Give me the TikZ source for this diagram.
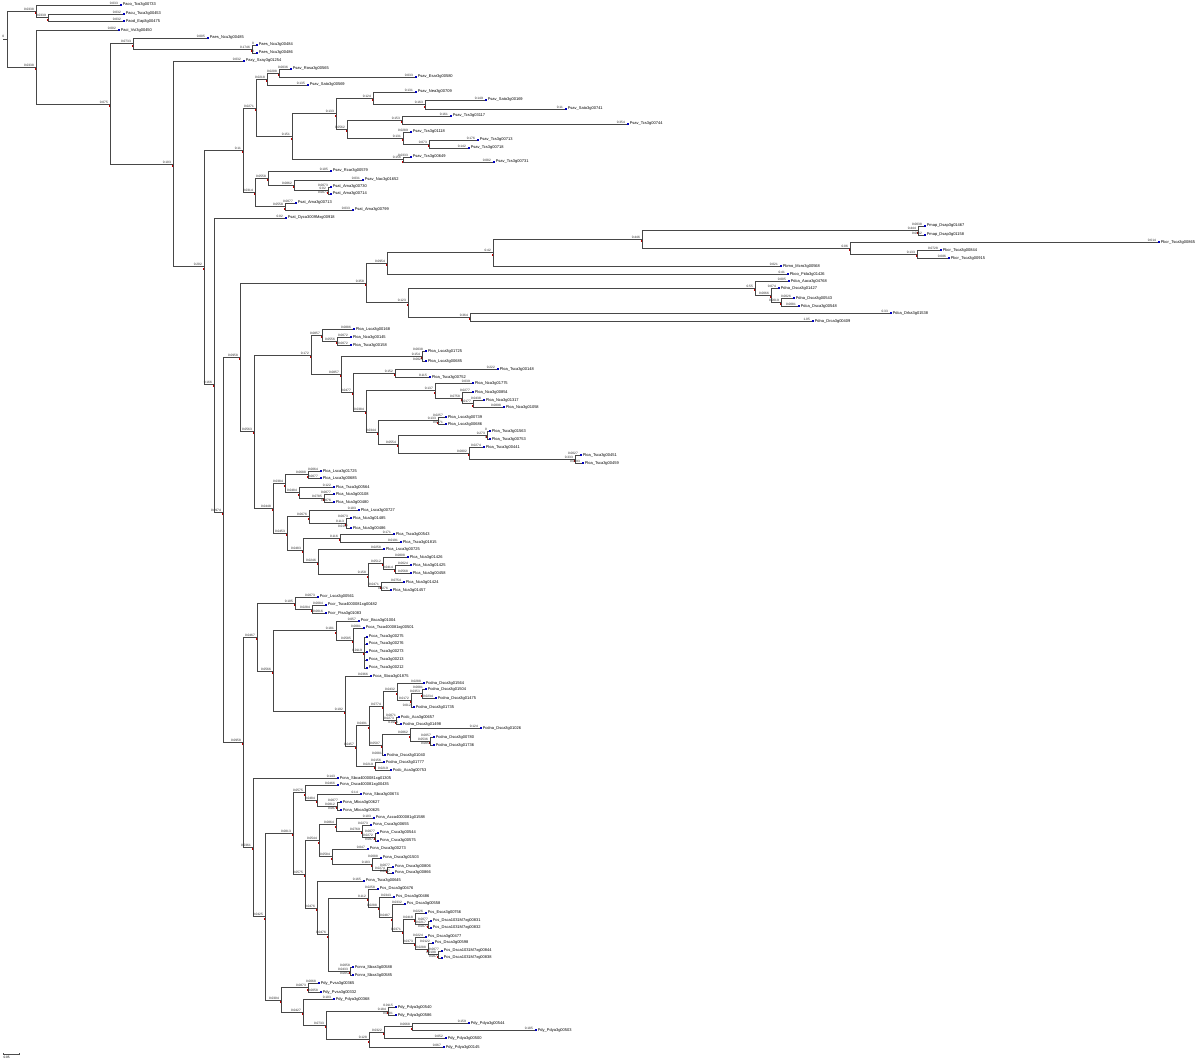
\documentclass[tikz,border=0pt]{standalone}
\usepackage{fontspec}
\setmainfont{Liberation Sans}
\begin{document}
\begin{tikzpicture}[x=1pt,y=-1pt,
  br/.style={draw=black!72,line width=0.9pt},
  bl/.style={anchor=south east,font=\fontsize{3.2}{3.2}\selectfont,inner sep=0.2pt,text=black!85,xshift=-1.8pt,yshift=0.4pt},
  lt/.style={anchor=west,font=\fontsize{4}{4}\selectfont,inner sep=0.3pt,xshift=2.3pt},
  nodetick/.style={fill=red!75!black},
  leafmark/.style={fill=blue!75!black}]
\newcommand\TNode[5]{%
  \coordinate (#1) at (#3,#4);
  \draw[br] (#2) |- (#1);
  \node[bl] at (#1) {#5};
  \fill[nodetick] ([xshift=-1.5pt,yshift=-1.2pt]#1) rectangle ++(0.45,2);}
\newcommand\TLeaf[6]{%
  \coordinate (#1) at (#3,#4);
  \draw[br] (#2) |- (#1);
  \node[bl] at (#1) {#5};
  \fill[leafmark] ([xshift=0.3pt,yshift=-0.7pt]#1) rectangle ++(1.2,-1.4);
  \node[lt] (#1t) at (#1) {#6};}
\useasboundingbox (0,0) rectangle (1200,1064);
\fill[white] (0,0) rectangle (1200,1064);
% root
\coordinate (r) at (7,39);
\coordinate (r0) at (3,39);
\draw[br] (r0) -- (r);
\node[bl,anchor=south] at (5,38) {0};
\TNode{A}{r}{36}{11}{0.0338}
\TLeaf{l1}{A}{120}{5}{0.033}{Paco\_Tco3g00733}
\TNode{N48}{A}{48}{17.5}{0.0339}
\TLeaf{l2}{N48}{123}{14}{0.032}{Pacu\_Tsca3g00453}
\TLeaf{l3}{N48}{123}{21}{0.032}{Paod\_Eap3g00475}
\TNode{B}{r}{36}{67}{0.0338}
\TLeaf{l4}{B}{118}{30}{0.002}{Paci\_Vvi3g00450}
\TNode{C}{B}{110}{104}{0.075}
\TNode{N133}{C}{133}{43.5}{0.0733}
\TLeaf{l5}{N133}{207}{38}{0.005}{Paes\_Ncu3g00485}
\TNode{N252}{N133}{252}{49}{0.1746}
\TLeaf{l6}{N252}{256}{45}{0}{Paes\_Ncu3g00484}
\TLeaf{l7}{N252}{256}{53}{0}{Paes\_Ncu3g00486}
\TNode{D}{C}{173}{164}{0.103}
\TLeaf{l8}{D}{243}{61}{0.032}{Paxy\_Sxay3g01254}
\TNode{E}{D}{204}{266.5}{0.202}
\TNode{N243}{E}{243}{150}{0.11}
\TNode{N256}{N243}{256}{108}{0.0271}
\TNode{N267}{N256}{267}{79}{0.0218}
\TNode{N279}{N267}{279}{73}{0.0208}
\TLeaf{l10}{N279}{290}{69}{0.0036}{Psav\_Rosa3g00565}
\TLeaf{l11}{N279}{415}{77}{0.033}{Psav\_Esar3g00580}
\TLeaf{l12}{N267}{307}{85}{0.135}{Psav\_Sato3g00569}
\TNode{N292}{N256}{292}{136.5}{0.151}
\TNode{N336}{N292}{336}{113.5}{0.133}
\TNode{N373}{N336}{373}{98}{0.124}
\TLeaf{l13}{N373}{415}{92}{0.131}{Psav\_Nea3g00709}
\TNode{N425}{N373}{425}{104.5}{0.163}
\TLeaf{l14}{N425}{485}{100}{0.149}{Psav\_Sato3g00169}
\TLeaf{l15}{N425}{565}{109}{0.11}{Psav\_Sato3g00741}
\TNode{N347}{N336}{347}{129}{0.0562}
\TNode{N402}{N347}{402}{120}{0.153}
\TLeaf{l16}{N402}{450}{116}{0.161}{Psav\_Tcs3g03117}
\TLeaf{l17}{N402}{627}{124}{0.354}{Psav\_Tcs3g00744}
\TNode{N403}{N347}{403}{138}{0.131}
\TLeaf{l18}{N403}{410}{132}{0.0289}{Psav\_Tcs3g01118}
\TNode{N429}{N403}{429}{144}{0.073}
\TLeaf{l19}{N429}{477}{140}{0.176}{Psav\_Tcs3g00713}
\TLeaf{l20}{N429}{468}{148}{0.142}{Psav\_Tcs3g00718}
\TNode{N403b}{N292}{403}{159.5}{0.156}
\TLeaf{l21}{N403b}{410}{157}{0.0333}{Psav\_Tcs3g00649}
\TLeaf{l22}{N403b}{493}{162}{0.082}{Psav\_Tcs3g00731}
\TNode{N255}{N243}{255}{192}{0.0314}
\TNode{N268}{N255}{268}{178}{0.0558}
\TLeaf{l23}{N268}{330}{171}{0.105}{Psav\_Rcar3g00579}
\TNode{N294}{N268}{294}{185}{0.0862}
\TLeaf{l24}{N294}{362}{180}{0.031}{Psav\_Nac3g01652}
\TNode{N328}{N294}{328}{190.5}{0.02}
\TLeaf{l25}{N328}{330}{187}{0.0073}{Psat\_Ama3g00730}
\TLeaf{l26}{N328}{330}{194}{0.0077}{Psat\_Ama3g00714}
\TNode{N285}{N255}{285}{206.5}{0.0558}
\TLeaf{l27}{N285}{295}{203}{0.0077}{Psat\_Ama3g00713}
\TLeaf{l28}{N285}{352}{210}{0.033}{Psat\_Ama3g00799}
\TNode{F}{E}{214}{384}{0.166}
\TLeaf{l9}{F}{285}{218}{0.02}{Psat\_Dyca3009Mxg00918}
\TNode{J}{F}{223}{512}{0.0974}
\TNode{G}{J}{240}{357}{0.0958}
\TNode{N366}{G}{366}{283}{0.358}
\TNode{N387}{N366}{387}{263}{0.0954}
\TNode{N493}{N387}{493}{252.5}{0.42}
\TNode{N642}{N493}{642}{239}{0.446}
\TNode{N918}{N642}{918}{230.5}{0.444}
\TLeaf{l29}{N918}{924}{226}{0.0038}{Pmap\_Dsap3g01467}
\TLeaf{l30}{N918}{924}{235}{0.0062}{Pmap\_Dsap3g01158}
\TNode{N850}{N642}{850}{248}{0.06}
\TLeaf{l31}{N850}{1158}{242}{0.614}{Pbcr\_Tsca3g00865}
\TNode{N917}{N850}{917}{254}{0.133}
\TLeaf{l32}{N917}{940}{250}{0.0728}{Pbcr\_Tsca3g00844}
\TLeaf{l33}{N917}{948}{258}{0.086}{Pbcr\_Tsca3g00915}
\TLeaf{l34}{N493}{780}{266}{0.021}{Pbmo\_Mcro3g00568}
\TLeaf{l35}{N387}{787}{274}{0.41}{Pbco\_Pida3g01426}
\TNode{N408}{N366}{408}{302.5}{0.123}
\TNode{N755}{N408}{755}{288}{0.55}
\TLeaf{l36}{N755}{788}{281}{0.005}{Pdca\_Aaca3g04768}
\TNode{N771}{N755}{771}{295}{0.0066}
\TLeaf{l37}{N771}{778}{288}{0.074}{Pdna\_Dsca3g01427}
\TNode{N781}{N771}{781}{302}{0.0019}
\TLeaf{l38}{N781}{793}{298}{0.0026}{Pdna\_Dsca3g00543}
\TLeaf{l39}{N781}{798}{306}{0.0081}{Pdca\_Dsca3g00548}
\TNode{N470}{N408}{470}{317}{0.364}
\TLeaf{l40}{N470}{890}{313}{0.33}{Pdca\_Drka3g01538}
\TLeaf{l41}{N470}{812}{321}{1.05}{Pdna\_Drca3g00409}
\TNode{H}{G}{254}{431}{0.0563}
\TNode{N311}{H}{311}{355}{0.172}
\TNode{N322}{N311}{322}{335}{0.0857}
\TLeaf{l42}{N322}{353}{329}{0.0886}{Ploa\_Lsca3g00168}
\TNode{N337}{N322}{337}{341}{0.0556}
\TLeaf{l43}{N337}{350}{337}{0.0072}{Ploa\_Nca3g00145}
\TLeaf{l44}{N337}{350}{345}{0.0072}{Ploa\_Tsca3g00158}
\TNode{N341}{N311}{341}{374}{0.0857}
\TNode{N420}{N341}{422}{356}{0.154}
\TLeaf{l45}{N420}{425}{351}{0.0038}{Ploa\_Lsca3g01725}
\TLeaf{l46}{N420}{425}{361}{0.0025}{Ploa\_Lsca3g00685}
\TNode{N353}{N341}{353}{392}{0.0477}
\TNode{N395}{N353}{395}{373}{0.152}
\TLeaf{l47}{N395}{497}{369}{0.222}{Ploa\_Tsca3g00148}
\TLeaf{l48}{N395}{429}{377}{0.115}{Ploa\_Tsca3g00752}
\TNode{N366b}{N353}{366}{411}{0.0384}
\TNode{N435}{N366b}{435}{390.5}{0.137}
\TLeaf{l49}{N435}{472}{383}{0.039}{Ploa\_Nca3g01775}
\TNode{N462}{N435}{462}{398}{0.0758}
\TLeaf{l50}{N462}{472}{392}{0.0277}{Ploa\_Nca3g00854}
\TNode{N473}{N462}{473}{403.5}{0.0177}
\TLeaf{l51}{N473}{483}{400}{0.0438}{Ploa\_Nca3g01317}
\TLeaf{l52}{N473}{503}{407}{0.0898}{Ploa\_Nca3g01058}
\TNode{N378}{N366b}{378}{432}{0.0344}
\TNode{N438}{N378}{438}{420.5}{0.133}
\TLeaf{l53}{N438}{445}{417}{0.0257}{Ploa\_Lsca3g00739}
\TLeaf{l54}{N438}{445}{424}{0.0271}{Ploa\_Lsca3g00686}
\TNode{N398}{N378}{398}{444}{0.0554}
\TNode{N487}{N398}{487}{435}{0.273}
\TLeaf{l55}{N487}{489}{431}{0}{Ploa\_Tsca3g01563}
\TLeaf{l56}{N487}{489}{439}{0}{Ploa\_Tsca3g00753}
\TNode{N469}{N398}{469}{453}{0.0802}
\TLeaf{l57}{N469}{483}{447}{0.0274}{Ploa\_Tsca3g00441}
\TNode{N575}{N469}{575}{459}{0.333}
\TLeaf{l58}{N575}{580}{455}{0.0027}{Ploa\_Tsca3g00451}
\TLeaf{l59}{N575}{582}{463}{0.0093}{Ploa\_Tsca3g00459}
\TNode{I}{H}{273}{508}{0.0448}
\TNode{N285i}{I}{285}{483.5}{0.0384}
\TNode{N308}{N285i}{308}{474.5}{0.0688}
\TLeaf{l60}{N308}{320}{471}{0.0064}{Plca\_Lsca3g01725}
\TLeaf{l61}{N308}{320}{478}{0.0077}{Plca\_Lsca3g00685}
\TNode{N299}{N285i}{299}{492.5}{0.0484}
\TLeaf{l62}{N299}{333}{487}{0.122}{Plca\_Tsca3g00564}
\TNode{N324}{N299}{324}{498}{0.0785}
\TLeaf{l63}{N324}{333}{494}{0.0077}{Plca\_Nca3g00108}
\TLeaf{l64}{N324}{333}{502}{0.0076}{Plca\_Nca3g00480}
\TNode{N287}{I}{287}{533}{0.0453}
\TNode{N309}{N287}{309}{516.5}{0.0676}
\TLeaf{l65}{N309}{358}{510}{0.103}{Plca\_Lsca3g00727}
\TNode{N346}{N309}{346}{523}{0.113}
\TLeaf{l66}{N346}{350}{518}{0.0073}{Plca\_Nca3g01485}
\TLeaf{l67}{N346}{350}{528}{0.0157}{Plca\_Nca3g00486}
\TNode{N303}{N287}{303}{550}{0.0483}
\TNode{N340}{N303}{340}{538}{0.116}
\TLeaf{l68}{N340}{393}{534}{0.171}{Plca\_Tsca3g00543}
\TLeaf{l69}{N340}{400}{542}{0.0191}{Plca\_Tsca3g01815}
\TNode{N318}{N303}{318}{562}{0.0246}
\TLeaf{l70}{N318}{383}{549}{0.0258}{Plca\_Lsca3g00725}
\TNode{N368}{N318}{368}{574.5}{0.158}
\TNode{N383}{N368}{383}{563}{0.0512}
\TLeaf{l71}{N383}{407}{557}{0.0808}{Plca\_Nca3g01426}
\TNode{N395b}{N383}{395}{569}{0.0414}
\TLeaf{l72}{N395b}{410}{565}{0.0624}{Plca\_Nca3g01425}
\TLeaf{l73}{N395b}{410}{573}{0.0568}{Plca\_Nca3g00458}
\TNode{N381}{N368}{381}{586}{0.0471}
\TLeaf{l74}{N381}{403}{582}{0.0754}{Plca\_Nca3g01424}
\TLeaf{l75}{N381}{390}{590}{0.0276}{Plca\_Nca3g01457}
\TNode{K}{J}{243}{742}{0.0958}
\TNode{N257}{K}{257}{637}{0.0467}
\TNode{N295}{N257}{295}{603}{0.105}
\TLeaf{l76}{N295}{317}{597}{0.0073}{Pccr\_Lsca3g00561}
\TNode{N312}{N295}{312}{609}{0.0284}
\TLeaf{l77}{N312}{325}{605}{0.0084}{Pccr\_Tsca4000081xg00482}
\TLeaf{l78}{N312}{325}{613}{0.0016}{Pccr\_Pisa3g01083}
\TNode{N273}{N257}{273}{671}{0.0566}
\TNode{N336k}{N273}{336}{630.5}{0.181}
\TLeaf{l79}{N336k}{358}{621}{0.057}{Pccr\_Bsca3g01004}
\TNode{N353k}{N336k}{353}{640}{0.0585}
\TLeaf{l80}{N353k}{363}{628}{0.0081}{Pcca\_Tsca400081xg00501}
\TNode{N364}{N353k}{364}{652}{0.0119}
\TLeaf{l81}{N364}{366}{637}{}{Pcca\_Tsca3g00275}
\TLeaf{l82}{N364}{366}{644}{}{Pcca\_Tsca3g00276}
\TLeaf{l83}{N364}{366}{652}{}{Pcca\_Tsca3g00273}
\TLeaf{l84}{N364}{366}{660}{}{Pcca\_Tsca3g00213}
\TLeaf{l85}{N364}{366}{668}{}{Pcca\_Tsca3g00212}
\TNode{N345}{N273}{345}{711}{0.192}
\TLeaf{l86}{N345}{370}{676}{0.0366}{Pcca\_Sbca3g01875}
\TNode{N356}{N345}{356}{746}{0.0457}
\TNode{N369}{N356}{369}{725.5}{0.0491}
\TNode{N383k}{N369}{383}{706}{0.0774}
\TNode{N397}{N383k}{397}{691.5}{0.0432}
\TLeaf{l87}{N397}{423}{683}{0.0288}{Pcdna\_Dsca3g01564}
\TNode{N411}{N397}{411}{700}{0.0172}
\TNode{N422}{N411}{422}{693.5}{0.0353}
\TLeaf{l88}{N422}{425}{689}{0.0081}{Pcdna\_Dsca3g01504}
\TLeaf{l89}{N422}{435}{698}{0.0234}{Pcdna\_Dsca3g01475}
\TLeaf{l90}{N411}{413}{707}{0.012}{Pcdna\_Dsca3g01735}
\TNode{N396}{N383k}{396}{720.5}{0.0273}
\TLeaf{l91}{N396}{398}{717}{0.0071}{Pcdc\_Aca3g00657}
\TLeaf{l92}{N396}{400}{724}{0.0116}{Pcdna\_Dsca3g01498}
\TNode{N382}{N369}{382}{745}{0.0507}
\TNode{N410}{N382}{410}{734.5}{0.0862}
\TLeaf{l93}{N410}{480}{728}{0.124}{Pcdna\_Dsca3g01026}
\TNode{N430}{N410}{430}{741}{0.0536}
\TLeaf{l94}{N430}{433}{737}{0.0057}{Pcdna\_Dsca3g00780}
\TLeaf{l95}{N430}{433}{745}{0.0058}{Pcdna\_Dsca3g01736}
\TLeaf{l96}{N382}{384}{755}{0.0081}{Pcdna\_Dsca3g01040}
\TNode{N375b}{N356}{375}{766}{0.0219}
\TLeaf{l97}{N375b}{383}{762}{0.0156}{Pcdna\_Dsca3g01777}
\TLeaf{l98}{N375b}{390}{770}{0.0219}{Pcdc\_Aca3g00753}
\TNode{N253}{K}{253}{847}{0.0361}
\TLeaf{l99}{N253}{337}{778}{0.143}{Pcna\_Sbca4000081xg01305}
\TNode{N265}{N253}{265}{916.5}{0.0425}
\TNode{N293}{N265}{293}{833}{0.0813}
\TNode{N305}{N293}{305}{792.5}{0.0575}
\TLeaf{l100}{N305}{337}{785}{0.0466}{Pcna\_Dsca400081xg00435}
\TNode{N317}{N305}{317}{800}{0.0484}
\TLeaf{l101}{N317}{360}{794}{0.14}{Pcna\_Sbca3g00674}
\TNode{N337b}{N317}{337}{806}{0.0812}
\TLeaf{l102}{N337b}{340}{802}{0.0077}{Pcna\_Mbca3g00627}
\TLeaf{l103}{N337b}{340}{810}{0.0077}{Pcna\_Mbca3g00625}
\TNode{N305b}{N293}{305}{874}{0.0575}
\TNode{N319}{N305b}{319}{840.5}{0.0544}
\TNode{N336c}{N319}{336}{824.5}{0.0864}
\TLeaf{l104}{N336c}{373}{818}{0.103}{Pcna\_Acca4000081g01588}
\TNode{N362}{N336c}{362}{831}{0.0769}
\TLeaf{l105}{N362}{370}{825}{0.0273}{Pcna\_Csca3g00655}
\TNode{N375}{N362}{375}{837}{0.0272}
\TLeaf{l106}{N375}{377}{833}{0.0077}{Pcna\_Csca3g00544}
\TLeaf{l107}{N375}{377}{841}{0.0077}{Pcna\_Csca3g00575}
\TNode{N332}{N319}{332}{856.5}{0.0584}
\TLeaf{l108}{N332}{367}{849}{0.047}{Pcna\_Dsca3g00273}
\TNode{N372}{N332}{372}{864}{0.183}
\TLeaf{l109}{N372}{380}{858}{0.0088}{Pcna\_Dsca3g01503}
\TNode{N387b}{N372}{387}{870}{0.0274}
\TLeaf{l110}{N387b}{392}{867}{0.0077}{Pcna\_Dsca3g00806}
\TLeaf{l111}{N387b}{392}{873}{0.0077}{Pcna\_Dsca3g00866}
\TNode{N317b}{N305b}{317}{908}{0.0476}
\TLeaf{l112}{N317b}{363}{881}{0.165}{Pcna\_Tsca3g00645}
\TNode{N328b}{N317b}{328}{934.5}{0.0476}
\TNode{N368b}{N328b}{368}{898}{0.112}
\TLeaf{l113}{N368b}{377}{889}{0.0258}{Pcs\_Dsca3g00476}
\TNode{N379}{N368b}{379}{907}{0.0288}
\TLeaf{l114}{N379}{393}{897}{0.0343}{Pcs\_Dsca3g00486}
\TNode{N392}{N379}{392}{917.5}{0.0487}
\TLeaf{l115}{N392}{404}{904}{0.0332}{Pcs\_Dsca3g00558}
\TNode{N403c}{N392}{403}{931}{0.0371}
\TNode{N415}{N403c}{415}{919}{0.0418}
\TLeaf{l116}{N415}{425}{913}{0.0226}{Pcs\_Esca3g00756}
\TNode{N428}{N415}{428}{924.5}{0.0217}
\TLeaf{l117}{N428}{430}{921}{0.0077}{Pcs\_Dsca1031M7xg00831}
\TLeaf{l118}{N428}{430}{928}{0.0077}{Pcs\_Dsca1031M7xg00832}
\TNode{N415b}{N403c}{415}{943}{0.0373}
\TLeaf{l119}{N415b}{425}{937}{0.0224}{Pcs\_Dsca3g00477}
\TNode{N428b}{N415b}{428}{949}{0.0288}
\TLeaf{l120}{N428b}{432}{943}{0.0122}{Pcs\_Dsca3g00598}
\TNode{N438x}{N428b}{438}{954.5}{0.0198}
\TLeaf{l121}{N438x}{441}{951}{0.0077}{Pcs\_Dsca1031M7xg00844}
\TLeaf{l122}{N438x}{441}{958}{0.0077}{Pcs\_Dsca1031M7xg00838}
\TNode{N350}{N328b}{350}{971}{0.0433}
\TLeaf{l123}{N350}{352}{967}{0.0058}{Pcnra\_Sbxa3g00588}
\TLeaf{l124}{N350}{352}{975}{0.0052}{Pcnra\_Sbxa3g00585}
\TNode{N281}{N265}{281}{1000}{0.0304}
\TNode{N308b}{N281}{308}{987.5}{0.0873}
\TLeaf{l125}{N308b}{318}{983}{0.0068}{Pdy\_Pvsa3g00365}
\TLeaf{l126}{N308b}{320}{992}{0.0058}{Pdy\_Pvsa3g00332}
\TNode{N303b}{N281}{303}{1012}{0.0427}
\TLeaf{l127}{N303b}{333}{999}{0.103}{Pdy\_Pdya3g00368}
\TNode{N326}{N303b}{326}{1025}{0.0733}
\TNode{N388}{N326}{388}{1011}{0.184}
\TLeaf{l128}{N388}{395}{1007}{0.0115}{Pdy\_Pdya3g00540}
\TLeaf{l129}{N388}{395}{1015}{0.0101}{Pdy\_Pdya3g00586}
\TNode{N369b}{N326}{369}{1039.5}{0.128}
\TNode{N384}{N369b}{384}{1032}{0.0322}
\TNode{N412}{N384}{412}{1026.5}{0.0668}
\TLeaf{l130}{N412}{468}{1023}{0.159}{Pdy\_Pdya3g00544}
\TLeaf{l131}{N412}{535}{1030}{0.185}{Pdy\_Pdya3g00503}
\TLeaf{l132}{N384}{445}{1038}{0.052}{Pdy\_Pdya3g00500}
\TLeaf{l133}{N369b}{443}{1047}{0.067}{Pdy\_Pdya3g00145}
% scale bar
\coordinate (s1) at (3,1054);
\coordinate (s2) at (19,1054);
\draw[black!70,line width=0.5pt] (s1) -- (s2);
\draw[black!70,line width=0.5pt] ([yshift=1pt]s1) -- ([yshift=-1pt]s1) ([yshift=1pt]s2) -- ([yshift=-1pt]s2);
\node[anchor=north west,font=\fontsize{3.2}{3.2}\selectfont,inner sep=0.3pt] (sl) at (3,1056) {0.05};
\end{tikzpicture}
\end{document}
